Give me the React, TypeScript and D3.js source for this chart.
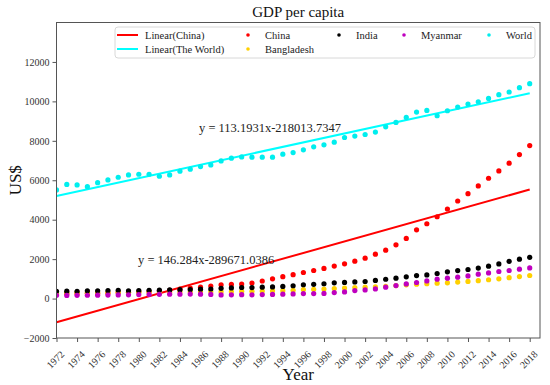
import React, { useEffect, useRef } from "react";
import * as d3 from "d3";

// years 1972..2018, GDP per capita (constant US$)
const years = d3.range(1972, 2019);

const china = [
  235, 250, 252, 268, 260, 277, 305, 325, 345, 358, 385, 420, 478, 535, 575, 635,
  700, 715, 735, 790, 890, 1000, 1110, 1210, 1322, 1424, 1526, 1650, 1760, 1897,
  2049, 2253, 2456, 2726, 3051, 3488, 3793, 4149, 4541, 4948, 5319, 5711, 6102,
  6473, 6865, 7302, 7760,
];
const india = [
  370, 375, 372, 390, 390, 405, 420, 395, 410, 420, 425, 440, 450, 460, 475, 485,
  520, 540, 560, 555, 575, 590, 615, 650, 700, 720, 750, 800, 820, 845, 865, 920,
  980, 1035, 1100, 1165, 1200, 1270, 1355, 1420, 1475, 1545, 1640, 1755, 1890,
  1995, 2090,
];
const bangladesh = [
  285, 290, 310, 300, 305, 300, 315, 318, 315, 318, 320, 325, 330, 335, 340, 345,
  350, 355, 365, 370, 380, 390, 400, 420, 455, 470, 485, 505, 530, 555, 575, 595,
  625, 660, 695, 725, 755, 780, 800, 835, 870, 905, 955, 1000, 1060, 1115, 1170,
];
const myanmar = [
  165, 160, 165, 168, 172, 178, 185, 190, 200, 208, 215, 220, 225, 228, 222, 210,
  185, 190, 195, 190, 200, 210, 220, 235, 254, 254, 260, 305, 336, 407, 437, 488,
  575, 661, 742, 814, 895, 981, 1032, 1083, 1149, 1236, 1302, 1373, 1424, 1490,
  1556,
];
const world = [
  5510, 5790, 5761, 5675, 5878, 6016, 6153, 6270, 6305, 6305, 6204, 6270, 6458,
  6560, 6692, 6778, 6982, 7119, 7185, 7170, 7170, 7170, 7322, 7404, 7541, 7694,
  7795, 7933, 8167, 8238, 8319, 8441, 8711, 8930, 9184, 9458, 9540, 9270, 9524,
  9712, 9865, 9982, 10150, 10338, 10475, 10694, 10897,
];

// fitted trend lines, slope / intercept as printed on the chart
const chinaFit = { slope: 146.284, intercept: -289671.0386, label: "y = 146.284x-289671.0386" };
const worldFit = { slope: 113.1931, intercept: -218013.7347, label: "y = 113.1931x-218013.7347" };

const yTicks = d3.range(-2000, 12001, 2000);
const xTicks = d3.range(1972, 2019, 2);

const W = 550;
const H = 385;
const margin = { left: 56.5, right: 10, top: 22.5, bottom: 47 };
const serif = "'Liberation Serif', 'Times New Roman', serif";

export default function App() {
  const ref = useRef<SVGSVGElement>(null);

  useEffect(() => {
    if (!ref.current) return;
    const svg = d3.select(ref.current);
    svg.selectAll("*").remove();

    const x = d3.scaleLinear().domain([1972, 2019]).range([margin.left, W - margin.right]);
    const y = d3.scaleLinear().domain([-2000, 14000]).range([H - margin.bottom, margin.top]);

    svg.append("rect").attr("width", W).attr("height", H).attr("fill", "#fff");

    // title
    svg.append("text")
      .attr("x", (margin.left + W - margin.right) / 2)
      .attr("y", 17)
      .attr("text-anchor", "middle")
      .attr("font-family", serif)
      .attr("font-size", 15)
      .attr("fill", "#111")
      .text("GDP per capita");

    const plot = svg.append("g");
    const clipId = "plot-clip";
    svg.append("clipPath").attr("id", clipId)
      .append("rect")
      .attr("x", margin.left).attr("y", margin.top)
      .attr("width", W - margin.right - margin.left)
      .attr("height", H - margin.bottom - margin.top);

    const inner = plot.append("g").attr("clip-path", `url(#${clipId})`);

    // trend lines
    const fits = [
      { fit: chinaFit, color: "#ff0000" },
      { fit: worldFit, color: "#00ffff" },
    ];
    fits.forEach(({ fit, color }) => {
      const f = (t: number) => fit.slope * t + fit.intercept;
      inner.append("line")
        .attr("x1", x(1972)).attr("y1", y(f(1972)))
        .attr("x2", x(2018)).attr("y2", y(f(2018)))
        .attr("stroke", color)
        .attr("stroke-width", 2);
    });

    // scatter series, drawn in legend order
    const series = [
      { name: "China", values: china, color: "#ff0000" },
      { name: "Bangladesh", values: bangladesh, color: "#ffd000" },
      { name: "India", values: india, color: "#000000" },
      { name: "Myanmar", values: myanmar, color: "#bf00bf" },
      { name: "World", values: world, color: "#00eeee" },
    ];
    series.forEach((s) => {
      inner.append("g")
        .selectAll("circle")
        .data(s.values)
        .join("circle")
        .attr("cx", (_d, i) => x(years[i]))
        .attr("cy", (d) => y(d))
        .attr("r", 2.6)
        .attr("fill", s.color);
    });

    // equations
    svg.append("text")
      .attr("x", 199).attr("y", 132)
      .attr("font-family", serif).attr("font-size", 12.5).attr("fill", "#222")
      .text(worldFit.label);
    svg.append("text")
      .attr("x", 138).attr("y", 264)
      .attr("font-family", serif).attr("font-size", 12.5).attr("fill", "#222")
      .text(chinaFit.label);

    // frame
    plot.append("rect")
      .attr("x", margin.left).attr("y", margin.top)
      .attr("width", W - margin.right - margin.left)
      .attr("height", H - margin.bottom - margin.top)
      .attr("fill", "none")
      .attr("stroke", "#555")
      .attr("stroke-width", 1);

    // y axis
    const yAxis = svg.append("g")
      .attr("transform", `translate(${margin.left},0)`)
      .call(d3.axisLeft(y).tickValues(yTicks).tickSize(4).tickPadding(3).tickFormat(d3.format("d")));
    yAxis.select(".domain").remove();
    yAxis.selectAll("line").attr("stroke", "#555");
    yAxis.selectAll("text")
      .attr("font-family", serif).attr("font-size", 10).attr("fill", "#333");

    // x axis
    const xAxis = svg.append("g")
      .attr("transform", `translate(0,${H - margin.bottom})`)
      .call(d3.axisBottom(x).tickValues(xTicks).tickSize(4).tickFormat(d3.format("d")));
    xAxis.select(".domain").remove();
    xAxis.selectAll("line").attr("stroke", "#555");
    xAxis.selectAll("text")
      .attr("font-family", serif).attr("font-size", 10).attr("fill", "#333")
      .attr("text-anchor", "end")
      .attr("dy", "0")
      .attr("transform", "translate(3,12) rotate(-45)");

    // axis titles
    svg.append("text")
      .attr("x", (margin.left + W - margin.right) / 2)
      .attr("y", 380)
      .attr("text-anchor", "middle")
      .attr("font-family", serif).attr("font-size", 17).attr("fill", "#111")
      .text("Year");
    svg.append("text")
      .attr("transform", `translate(21,${(margin.top + H - margin.bottom) / 2}) rotate(-90)`)
      .attr("text-anchor", "middle")
      .attr("font-family", serif).attr("font-size", 17).attr("fill", "#111")
      .text("US$");

    // legend
    const lg = svg.append("g");
    lg.append("rect")
      .attr("x", 115).attr("y", 27).attr("width", 420).attr("height", 31)
      .attr("rx", 3)
      .attr("fill", "#fff").attr("stroke", "#d8d8d8");
    const lineItems = [
      { name: "Linear(China)", color: "#ff0000", cx: 117, cy: 35 },
      { name: "Linear(The World)", color: "#00ffff", cx: 117, cy: 49 },
    ];
    lineItems.forEach((it) => {
      lg.append("line")
        .attr("x1", it.cx).attr("x2", it.cx + 21)
        .attr("y1", it.cy).attr("y2", it.cy)
        .attr("stroke", it.color).attr("stroke-width", 2);
      lg.append("text")
        .attr("x", it.cx + 28).attr("y", it.cy + 3.5)
        .attr("font-family", serif).attr("font-size", 10.5).attr("fill", "#222")
        .text(it.name);
    });
    const dotPos: Record<string, [number, number]> = {
      China: [248, 35],
      Bangladesh: [248, 49],
      India: [339, 35],
      Myanmar: [404, 35],
      World: [489, 35],
    };
    series.forEach((s) => {
      const [cx, cy] = dotPos[s.name];
      lg.append("circle").attr("cx", cx).attr("cy", cy).attr("r", 1.8).attr("fill", s.color);
      lg.append("text")
        .attr("x", cx + 17).attr("y", cy + 3.5)
        .attr("font-family", serif).attr("font-size", 10.5).attr("fill", "#222")
        .text(s.name);
    });
  }, []);

  return (
    <div style={{ position: "fixed", left: 0, top: 0 }}>
      <svg ref={ref} width={W} height={H} style={{ display: "block" }} />
    </div>
  );
}
